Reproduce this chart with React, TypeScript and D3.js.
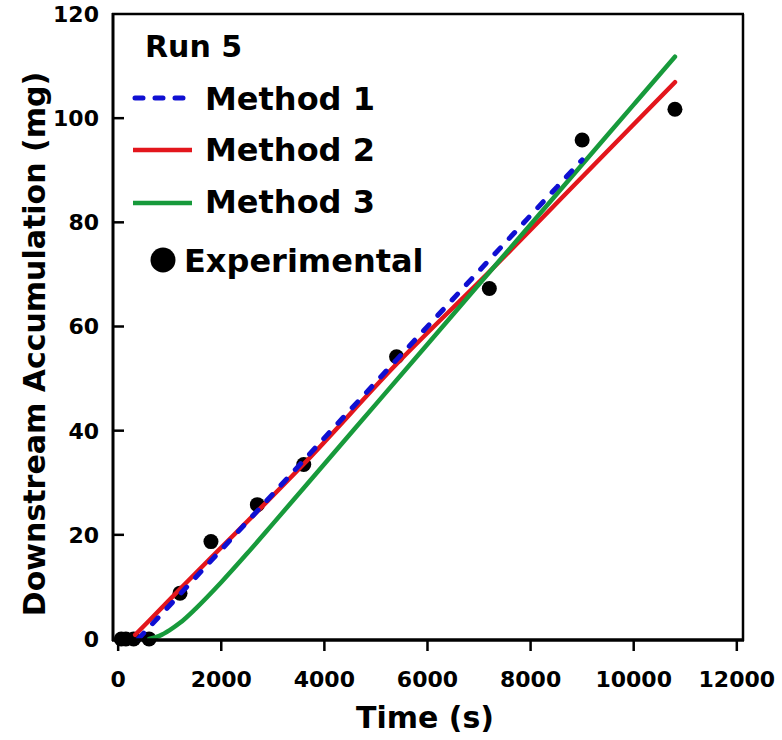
import React from "react";
import * as d3 from "d3";

// ---- data ----
const timeTicks = [0, 2000, 4000, 6000, 8000, 10000, 12000];
const accTicks = [0, 20, 40, 60, 80, 100, 120];

const expTime = [60, 150, 300, 600, 1200, 1800, 2700, 3600, 5400, 7200, 9000, 10800];
const expAcc = [0, 0, 0, 0, 8.8, 18.7, 25.8, 33.5, 54.2, 67.3, 95.8, 101.7];

const m1Time = [390, 1200, 1800, 2700, 3600, 5400, 7200, 9000];
const m1Acc = [0, 8.6, 15.0, 24.6, 34.3, 53.6, 72.8, 92.0];

const m2Time = [330, 600, 1200, 1800, 2700, 3600, 5400, 7200, 9000, 10800];
const m2Acc = [0.8, 3.5, 9.6, 15.6, 24.5, 33.6, 52.8, 70.5, 88.7, 106.9];

const m3Time = [600, 800, 1000, 1200, 1500, 2000, 2500, 3000, 3600, 4200, 5000, 6000, 7000, 8000, 9000, 10000, 10800];
const m3Acc = [0, 0.6, 1.7, 3.1, 5.8, 10.9, 16.4, 22.1, 29.0, 35.9, 45.1, 56.6, 68.1, 79.6, 91.1, 102.6, 111.8];

const legendTitle = "Run 5";
const seriesNames = ["Method 1", "Method 2", "Method 3", "Experimental"];

const BLUE = "#0f0fd2";
const RED = "#e3161c";
const GREEN = "#179a3b";
const FONT = "'DejaVu Sans', sans-serif";

export default function App() {
  const W = 782, H = 740;
  const left = 113, right = 743, top = 14, bottom = 639;
  const x = d3.scaleLinear().domain([-100, 12120]).range([left, right]);
  const y = d3.scaleLinear().domain([0, 120]).range([bottom, top]);

  const line = d3
    .line<[number, number]>()
    .x((d) => x(d[0]))
    .y((d) => y(d[1]))
    .curve(d3.curveMonotoneX);

  const zip = (a: number[], b: number[]) => a.map((t, i) => [t, b[i]] as [number, number]);

  const legendX1 = 133;
  const legendTextX = 205;

  return (
    <svg width={W} height={H} style={{ position: "absolute", left: 0, top: 0, background: "#fff" }}>
      <rect x={0} y={0} width={W} height={H} fill="#fff" />
      {/* experimental points */}
      <g>
        {expTime.map((t, i) => (
          <circle key={i} cx={x(t)} cy={y(expAcc[i])} r={7.5} fill="#000" />
        ))}
      </g>
      {/* model lines */}
      <path d={line(zip(m2Time, m2Acc)) || ""} fill="none" stroke={RED} strokeWidth={4.5} strokeLinecap="round" />
      <path d={line(zip(m3Time, m3Acc)) || ""} fill="none" stroke={GREEN} strokeWidth={4.5} strokeLinecap="round" />
      <path
        d={line(zip(m1Time, m1Acc)) || ""}
        fill="none"
        stroke={BLUE}
        strokeWidth={5}
        strokeDasharray="8 13"
        strokeLinecap="round"
      />

      {/* frame */}
      <g stroke="#000" fill="none">
        <line x1={left} x2={left} y1={top - 1} y2={bottom + 2} strokeWidth={3} />
        <line x1={left - 1} x2={right + 1} y1={bottom + 1} y2={bottom + 1} strokeWidth={3.5} />
        <line x1={left - 1} x2={right + 1} y1={top} y2={top} strokeWidth={2.5} />
        <line x1={right} x2={right} y1={top} y2={bottom + 2} strokeWidth={2.5} />
      </g>

      {/* x ticks */}
      <g fontFamily={FONT} fontWeight="bold" fontSize={22} textAnchor="middle">
        {timeTicks.map((t) => (
          <g key={t}>
            <line x1={x(t)} x2={x(t)} y1={bottom + 2} y2={bottom + 12} stroke="#000" strokeWidth={2.5} />
            <text x={x(t)} y={687}>{t}</text>
          </g>
        ))}
      </g>
      {/* y ticks */}
      <g fontFamily={FONT} fontWeight="bold" fontSize={22} textAnchor="end">
        {accTicks.map((v) => (
          <g key={v}>
            {v > 0 && v < 120 && (
              <line x1={left} x2={left + 11} y1={y(v)} y2={y(v)} stroke="#000" strokeWidth={2.5} />
            )}
            <text x={99} y={y(v)} dy="0.36em">{v}</text>
          </g>
        ))}
      </g>

      {/* axis titles */}
      <text x={425} y={728} fontFamily={FONT} fontWeight="bold" fontSize={30} textAnchor="middle">
        Time (s)
      </text>
      <text
        transform={`translate(45, 344) rotate(-90)`}
        fontFamily={FONT}
        fontWeight="bold"
        fontSize={30}
        textAnchor="middle"
      >
        Downstream Accumulation (mg)
      </text>

      {/* legend */}
      <g fontFamily={FONT} fontWeight="bold" fontSize={32}>
        <text x={145} y={57} fontSize={30}>{legendTitle}</text>
        <line x1={legendX1} x2={185} y1={98} y2={98} stroke={BLUE} strokeWidth={5} strokeDasharray="8 12" strokeLinecap="round" transform="translate(2,0)" />
        <text x={legendTextX} y={110}>{seriesNames[0]}</text>
        <line x1={legendX1} x2={192} y1={150} y2={150} stroke={RED} strokeWidth={4.5} />
        <text x={legendTextX} y={161}>{seriesNames[1]}</text>
        <line x1={legendX1} x2={192} y1={203} y2={203} stroke={GREEN} strokeWidth={4.5} />
        <text x={legendTextX} y={213}>{seriesNames[2]}</text>
        <circle cx={163} cy={260} r={12.5} fill="#000" />
        <text x={184} y={272}>{seriesNames[3]}</text>
      </g>
    </svg>
  );
}
